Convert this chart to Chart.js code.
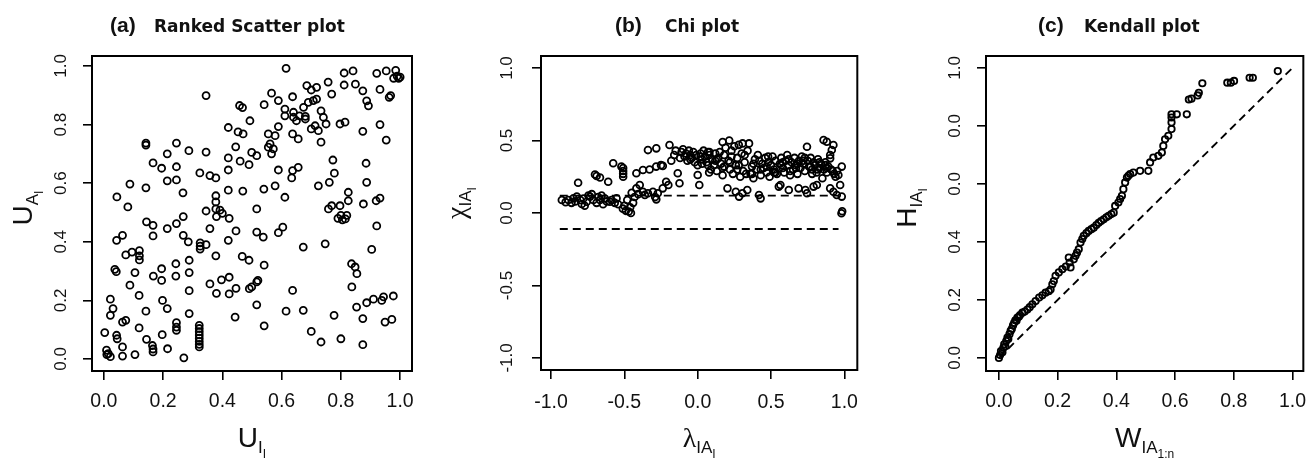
<!DOCTYPE html>
<html>
<head>
<meta charset="utf-8">
<script src="https://cdn.jsdelivr.net/npm/chart.js@4.4.1/dist/chart.umd.min.js"></script>
<style>
html, body { margin: 0; padding: 0; background: #fff; overflow: hidden; width: 1306px; height: 459px; }
canvas { position: absolute; top: 0; }
</style>
</head>
<body>
<canvas id="plotA" width="435" height="459" style="left:0px"></canvas>
<canvas id="plotB" width="435" height="459" style="left:435px"></canvas>
<canvas id="plotC" width="446" height="459" style="left:870px"></canvas>
<script>
/* (a) ranked scatter: U_I against U_A */
const rankI = [0.615,0.811,0.841,0.921,0.953,0.985,0.99,0.978,0.995,1.0,0.685,0.700,0.718,0.757,0.769,0.811,0.849,0.874,0.932,0.963,0.968,0.887,0.893,0.566,0.541,0.589,0.637,0.345,0.458,0.468,
  0.611,0.640,0.674,0.690,0.707,0.718,0.611,0.640,0.660,0.680,0.650,0.680,0.733,0.741,0.750,0.713,0.700,0.724,0.733,0.797,0.814,0.932,0.874,0.953,0.493,0.420,0.453,0.470,0.589,0.555,
  0.578,0.561,0.572,0.555,0.566,0.637,0.656,0.499,0.516,0.142,0.142,0.245,0.214,0.287,0.345,0.445,0.420,0.460,0.490,0.166,0.195,0.245,0.214,0.245,0.324,0.358,0.378,0.420,0.589,0.637,
  0.656,0.634,0.773,0.778,0.761,0.724,0.885,0.887,0.088,0.142,0.267,0.420,0.469,0.540,0.578,0.611,0.044,0.081,0.378,0.378,0.378,0.345,0.392,0.400,0.380,0.423,0.516,0.825,0.825,0.797,
  0.769,0.758,0.876,0.919,0.932,0.790,0.800,0.820,0.805,0.815,0.921,0.268,0.245,0.214,0.144,0.166,0.166,0.358,0.446,0.420,0.516,0.538,0.589,0.604,0.043,0.063,0.268,0.285,0.325,0.325,
  0.325,0.345,0.378,0.467,0.490,0.541,0.673,0.747,0.904,0.836,0.848,0.854,0.837,0.074,0.095,0.120,0.120,0.120,0.037,0.042,0.105,0.088,0.119,0.167,0.195,0.195,0.243,0.243,0.288,0.288,
  0.288,0.358,0.397,0.423,0.380,0.423,0.446,0.491,0.516,0.520,0.499,0.637,0.516,0.443,0.541,0.615,0.673,0.700,0.733,0.777,0.800,0.874,0.874,0.853,0.887,0.910,0.938,0.944,0.977,0.949,
  0.972,0.022,0.031,0.022,0.063,0.074,0.003,0.043,0.045,0.063,0.009,0.015,0.022,0.010,0.063,0.105,0.142,0.119,0.144,0.164,0.166,0.166,0.197,0.215,0.270,0.198,0.214,0.245,0.245,0.245,
  0.288,0.322,0.322,0.322,0.322,0.322,0.322,0.322,0.322];
const rankA = [0.992,0.976,0.983,0.975,0.983,0.985,0.965,0.958,0.958,0.962,0.933,0.918,0.927,0.945,0.904,0.935,0.938,0.915,0.920,0.893,0.899,0.881,0.864,0.907,0.868,0.882,0.895,0.899,0.865,0.858,
  0.853,0.842,0.859,0.876,0.882,0.887,0.830,0.825,0.830,0.828,0.813,0.819,0.847,0.825,0.802,0.796,0.785,0.779,0.740,0.802,0.808,0.800,0.777,0.747,0.813,0.790,0.775,0.768,0.793,0.768,
  0.762,0.734,0.717,0.723,0.700,0.768,0.751,0.705,0.694,0.737,0.730,0.737,0.700,0.711,0.706,0.724,0.686,0.675,0.663,0.669,0.651,0.656,0.608,0.611,0.635,0.626,0.618,0.645,0.645,0.643,
  0.654,0.618,0.679,0.634,0.603,0.591,0.668,0.603,0.597,0.584,0.567,0.576,0.573,0.580,0.591,0.552,0.553,0.519,0.557,0.536,0.512,0.505,0.508,0.497,0.486,0.480,0.512,0.569,0.540,0.523,
  0.523,0.512,0.529,0.540,0.549,0.480,0.490,0.490,0.475,0.478,0.454,0.486,0.462,0.445,0.468,0.456,0.420,0.445,0.437,0.405,0.433,0.416,0.431,0.450,0.405,0.422,0.422,0.400,0.396,0.385,
  0.375,0.390,0.352,0.350,0.337,0.320,0.382,0.393,0.374,0.325,0.314,0.291,0.246,0.355,0.365,0.370,0.352,0.338,0.306,0.298,0.295,0.252,0.217,0.283,0.308,0.268,0.325,0.283,0.337,0.295,
  0.233,0.256,0.270,0.279,0.224,0.222,0.241,0.240,0.263,0.268,0.246,0.234,0.185,0.143,0.113,0.163,0.166,0.094,0.058,0.149,0.069,0.049,0.138,0.177,0.192,0.204,0.200,0.212,0.215,0.126,
  0.135,0.204,0.172,0.149,0.126,0.132,0.090,0.081,0.069,0.041,0.030,0.018,0.008,0.015,0.010,0.015,0.163,0.106,0.067,0.046,0.024,0.034,0.083,0.035,0.004,0.200,0.172,0.124,0.109,0.098,
  0.155,0.115,0.104,0.093,0.082,0.071,0.060,0.050,0.041];

/* (b) chi plot: lambda against chi */
const chiLambda = [-0.926,-0.90,-0.881,-0.86,-0.847,-0.835,-0.824,-0.815,-0.80,-0.79,-0.779,-0.77,-0.756,-0.745,-0.734,-0.722,-0.711,-0.70,-0.689,-0.689,
  -0.678,-0.666,-0.666,-0.655,-0.645,-0.632,-0.62,-0.61,-0.598,-0.587,-0.576,-0.565,-0.553,-0.542,-0.52,-0.508,-0.508,-0.508,-0.508,-0.51,
  -0.50,-0.49,-0.48,-0.47,-0.46,-0.455,-0.45,-0.44,-0.43,-0.418,-0.418,-0.405,-0.395,-0.373,-0.373,-0.36,-0.339,-0.339,-0.328,-0.305,
  -0.29,-0.282,-0.283,-0.282,-0.272,-0.25,-0.238,-0.238,-0.215,-0.20,-0.192,-0.18,-0.16,-0.15,-0.136,-0.124,-0.12,-0.11,-0.10,-0.09,
  -0.08,-0.07,-0.06,-0.05,-0.04,-0.03,-0.02,-0.01,0.0,0.0,0.011,0.02,0.03,0.04,0.05,0.06,0.07,0.078,0.08,0.09,
  0.10,0.11,0.12,0.13,0.14,0.15,0.16,0.17,0.18,0.19,0.203,0.21,0.22,0.23,0.24,0.25,0.26,0.26,0.27,0.28,
  0.282,0.29,0.30,0.305,0.31,0.32,0.338,0.34,0.35,0.36,0.37,0.38,0.39,0.40,0.41,0.418,0.429,0.43,0.44,0.45,
  0.46,0.47,0.48,0.49,0.50,0.51,0.52,0.53,0.54,0.553,0.56,0.564,0.57,0.58,0.59,0.60,0.61,0.621,0.62,0.63,
  0.64,0.65,0.66,0.67,0.68,0.688,0.69,0.70,0.71,0.72,0.73,0.734,0.745,0.745,0.75,0.76,0.77,0.78,0.79,0.79,
  0.80,0.812,0.81,0.82,0.83,0.84,0.85,0.858,0.86,0.87,0.88,0.88,0.89,0.903,0.903,0.903,0.91,0.914,0.925,0.925,
  0.93,0.94,0.948,0.95,0.959,0.971,0.982,0.982,0.98,0.985,0.17,0.215,0.306,
  -0.05,0.02,0.07,0.12,0.17,0.22,0.27,0.32,0.37,0.42,0.47,0.52,0.57,0.62,0.67,0.72,0.77,0.82,0.87,0.92,
  0.03,0.08,0.13,0.18,0.23,0.28,0.33,0.38,0.43,0.48,0.53,0.58,0.63,0.68,0.73,0.78,0.83,0.88];
const chiValue = [0.09,0.075,0.09,0.07,0.101,0.08,0.113,0.209,0.09,0.062,0.10,0.05,0.078,0.12,0.113,0.13,0.09,0.265,0.255,0.07,
  0.11,0.245,0.09,0.12,0.06,0.10,0.08,0.216,0.078,0.09,0.343,0.07,0.101,0.06,0.32,0.31,0.29,0.27,0.25,0.03,
  0.05,0.015,0.09,0.01,0.04,0.0,0.14,0.07,0.11,0.274,0.17,0.13,0.193,0.297,0.147,0.125,0.434,0.136,0.30,0.147,
  0.11,0.446,0.32,0.094,0.136,0.33,0.325,0.17,0.216,0.193,0.469,0.36,0.40,0.43,0.274,0.205,0.38,0.42,0.44,0.39,
  0.41,0.36,0.43,0.40,0.38,0.42,0.35,0.40,0.262,0.33,0.193,0.41,0.37,0.43,0.39,0.35,0.42,0.28,0.40,0.30,
  0.37,0.33,0.41,0.29,0.38,0.42,0.34,0.26,0.40,0.45,0.17,0.36,0.30,0.43,0.27,0.46,0.147,0.33,0.38,0.47,
  0.113,0.25,0.41,0.136,0.29,0.35,0.159,0.43,0.48,0.27,0.32,0.24,0.37,0.30,0.40,0.124,0.101,0.26,0.34,0.31,
  0.38,0.28,0.35,0.25,0.33,0.39,0.30,0.36,0.27,0.182,0.34,0.193,0.38,0.31,0.28,0.36,0.40,0.159,0.33,0.26,
  0.35,0.30,0.38,0.33,0.27,0.17,0.36,0.31,0.39,0.34,0.29,0.159,0.457,0.136,0.36,0.32,0.38,0.30,0.182,0.35,
  0.33,0.193,0.28,0.37,0.31,0.34,0.24,0.503,0.30,0.35,0.492,0.28,0.32,0.40,0.377,0.17,0.30,0.434,0.469,0.147,
  0.27,0.25,0.124,0.29,0.262,0.193,0.32,0.113,-0.002,0.012,0.49,0.50,0.48,
  0.37,0.39,0.33,0.36,0.31,0.35,0.30,0.40,0.27,0.36,0.32,0.28,0.33,0.37,0.31,0.36,0.32,0.30,0.33,0.29,
  0.34,0.42,0.37,0.32,0.39,0.33,0.27,0.34,0.30,0.39,0.28,0.35,0.29,0.34,0.38,0.27,0.35,0.31];
const chiLimitLambda = [-0.94, 0.96];
const chiLimits = [0.12, -0.11];

/* (c) Kendall plot: W against H */
const kendallW = [0.000,0.004,0.007,0.012,0.015,0.018,0.022,0.025,0.029,0.032,0.036,0.040,0.044,0.048,0.052,0.056,0.060,0.063,0.068,0.072,
  0.080,0.088,0.097,0.105,0.114,0.125,0.137,0.148,0.159,0.170,0.176,0.182,0.187,0.193,0.204,0.216,0.228,0.238,0.241,0.244,
  0.255,0.261,0.266,0.272,0.278,0.284,0.289,0.298,0.306,0.315,0.323,0.332,0.340,0.348,0.357,0.366,0.374,0.383,0.391,0.396,
  0.407,0.413,0.419,0.424,0.430,0.436,0.441,0.447,0.458,0.481,0.509,0.515,0.526,0.543,0.555,0.560,0.566,0.577,0.588,0.588,
  0.588,0.588,0.606,0.640,0.647,0.656,0.677,0.681,0.693,0.778,0.790,0.801,0.854,0.865,0.950];
const kendallH = [0.000,0.010,0.024,0.020,0.035,0.047,0.040,0.058,0.070,0.065,0.082,0.093,0.100,0.112,0.121,0.130,0.128,0.139,0.142,0.148,
  0.156,0.160,0.167,0.175,0.185,0.196,0.208,0.216,0.225,0.230,0.236,0.254,0.265,0.283,0.295,0.306,0.315,0.346,0.329,0.312,
  0.340,0.352,0.363,0.375,0.398,0.410,0.421,0.430,0.438,0.444,0.449,0.458,0.466,0.472,0.478,0.485,0.490,0.496,0.501,0.524,
  0.536,0.548,0.559,0.582,0.605,0.622,0.628,0.634,0.639,0.645,0.645,0.674,0.691,0.697,0.708,0.731,0.754,0.766,0.789,0.812,
  0.829,0.840,0.840,0.840,0.891,0.894,0.905,0.914,0.947,0.949,0.949,0.955,0.966,0.966,0.989];
const diagonal = [0, 1];

/* ticks */
const unitTicks = [0, 0.2, 0.4, 0.6, 0.8, 1.0];
const unitLabels = ["0.0", "0.2", "0.4", "0.6", "0.8", "1.0"];
const kendallHLabels = ["0.0", "0.2", "0.4", "0.0", "0.0", "1.0"];
const chiTicks = [-1, -0.5, 0, 0.5, 1];
const chiLabels = ["-1.0", "-0.5", "0.0", "0.5", "1.0"];

const pts = (xs, ys) => xs.map((x, i) => ({ x: x, y: ys[i] }));

function circles(xs, ys, r) {
  return { data: pts(xs, ys), pointStyle: 'circle', pointRadius: r, pointBorderWidth: 1.8,
    pointBorderColor: '#000', pointBackgroundColor: 'rgba(0,0,0,0)', showLine: false };
}
function dashed(xs, ys, dash) {
  return { data: pts(xs, ys), showLine: true, pointRadius: 0, borderColor: '#000',
    borderWidth: 1.9, borderDash: dash, fill: false };
}

function axis(min, max, ticks, labels, vertical, pad, size) {
  return {
    type: 'linear', min: min, max: max,
    afterBuildTicks: s => { s.ticks = ticks.map(v => ({ value: v })); },
    afterFit: s => { if (vertical) s.width = size; else s.height = size; },
    grid: { drawOnChartArea: false, drawTicks: true, tickLength: 9, color: '#000', lineWidth: 1.6 },
    border: { display: false },
    ticks: {
      color: '#111', padding: pad, autoSkip: false,
      font: { family: 'Liberation Sans', size: vertical ? 17 : 19.5 },
      minRotation: vertical ? 90 : 0, maxRotation: vertical ? 90 : 0,
      crossAlign: vertical ? 'center' : 'near',
      callback: (v, i) => labels[i]
    }
  };
}

// math-style label: [text, level], level 0 main, 1 subscript, 2 sub-subscript
function drawLabel(ctx, parts, serif, cx, base) {
  const size = [28, 17, 12], shift = [0, 6, 11];
  const fontOf = p => size[p[1]] + 'px ' + (p[1] === 0 && serif ? '"Liberation Serif"' : '"Liberation Sans"');
  let w = 0;
  parts.forEach(p => { ctx.font = fontOf(p); w += ctx.measureText(p[0]).width; });
  let x = cx - w / 2;
  ctx.textAlign = 'left';
  ctx.textBaseline = 'alphabetic';
  parts.forEach(p => {
    ctx.font = fontOf(p);
    ctx.fillText(p[0], x, base + shift[p[1]]);
    x += ctx.measureText(p[0]).width;
  });
}

function decor(p) {
  return {
    id: 'rDecor',
    afterDraw(chart) {
      const ctx = chart.ctx, a = chart.chartArea;
      ctx.save();
      ctx.strokeStyle = '#000';
      ctx.lineWidth = 2;
      ctx.strokeRect(a.left, a.top, a.right - a.left, a.bottom - a.top);
      ctx.fillStyle = '#111';
      ctx.textAlign = 'left';
      ctx.textBaseline = 'alphabetic';
      ctx.font = 'bold 21px "Liberation Sans"';
      ctx.fillText(p.tag, p.tagX, 32);
      ctx.font = 'bold 17px "DejaVu Sans"';
      ctx.fillText(p.title, p.titleX, 32);
      drawLabel(ctx, p.xLab, p.serif, (a.left + a.right) / 2, 447);
      ctx.save();
      ctx.translate(p.yLabX, p.yLabY);
      ctx.rotate(-Math.PI / 2);
      drawLabel(ctx, p.yLab, p.serif, 0, 0);
      ctx.restore();
      ctx.restore();
    }
  };
}

function rPanel(id, p) {
  return new Chart(document.getElementById(id), {
    type: 'scatter',
    data: { datasets: p.datasets },
    options: {
      responsive: false, animation: false, devicePixelRatio: 1,
      layout: { padding: { top: 56, right: p.padRight, left: 0, bottom: 0 } },
      plugins: { legend: { display: false }, tooltip: { enabled: false }, title: { display: false } },
      scales: {
        x: axis(p.x[0], p.x[1], p.xTicks, p.xLabels, false, p.xPad, p.xSize),
        y: axis(p.y[0], p.y[1], p.yTicks, p.yLabels, true, p.yPad, p.ySize)
      }
    },
    plugins: [decor(p)]
  });
}

rPanel('plotA', {
  datasets: [circles(rankI, rankA, 3.5)],
  x: [-0.04, 1.04], y: [-0.041, 1.034],
  xTicks: unitTicks, xLabels: unitLabels, yTicks: unitTicks, yLabels: unitLabels,
  padRight: 23, ySize: 92, xSize: 88, yPad: 10, xPad: 9.6,
  tag: '(a)', tagX: 110, title: 'Ranked Scatter plot', titleX: 154,
  serif: false,
  xLab: [['U', 0], ['I', 1], ['I', 2]],
  yLab: [['U', 0], ['A', 1], ['I', 2]], yLabX: 32, yLabY: 208
});

rPanel('plotB', {
  datasets: [
    dashed(chiLimitLambda, [chiLimits[0], chiLimits[0]], [8, 5]),
    dashed(chiLimitLambda, [chiLimits[1], chiLimits[1]], [8, 5]),
    circles(chiLambda, chiValue, 3.4)
  ],
  x: [-1.068, 1.088], y: [-1.083, 1.083],
  xTicks: chiTicks, xLabels: chiLabels, yTicks: chiTicks, yLabels: chiLabels,
  padRight: 11, ySize: 106, xSize: 89, yPad: 9.8, xPad: 11.6,
  tag: '(b)', tagX: 180, title: 'Chi plot', titleX: 230,
  serif: true,
  xLab: [['\u03bb', 0], ['IA', 1], ['I', 2]],
  yLab: [['\u03c7', 0], ['IA', 1], ['I', 2]], yLabX: 30, yLabY: 203
});

rPanel('plotC', {
  datasets: [
    dashed(diagonal, diagonal, [8, 5]),
    circles(kendallW, kendallH, 3.2)
  ],
  x: [-0.044, 1.037], y: [-0.045, 1.041],
  xTicks: unitTicks, xLabels: unitLabels, yTicks: unitTicks, yLabels: kendallHLabels,
  padRight: 11, ySize: 116, xSize: 88, yPad: 9.5, xPad: 9.6,
  tag: '(c)', tagX: 168, title: 'Kendall plot', titleX: 214,
  serif: false,
  xLab: [['W', 0], ['IA', 1], ['1:n', 2]],
  yLab: [['H', 0], ['IA', 1], ['I', 2]], yLabX: 46, yLabY: 208
});
</script>
</body>
</html>
